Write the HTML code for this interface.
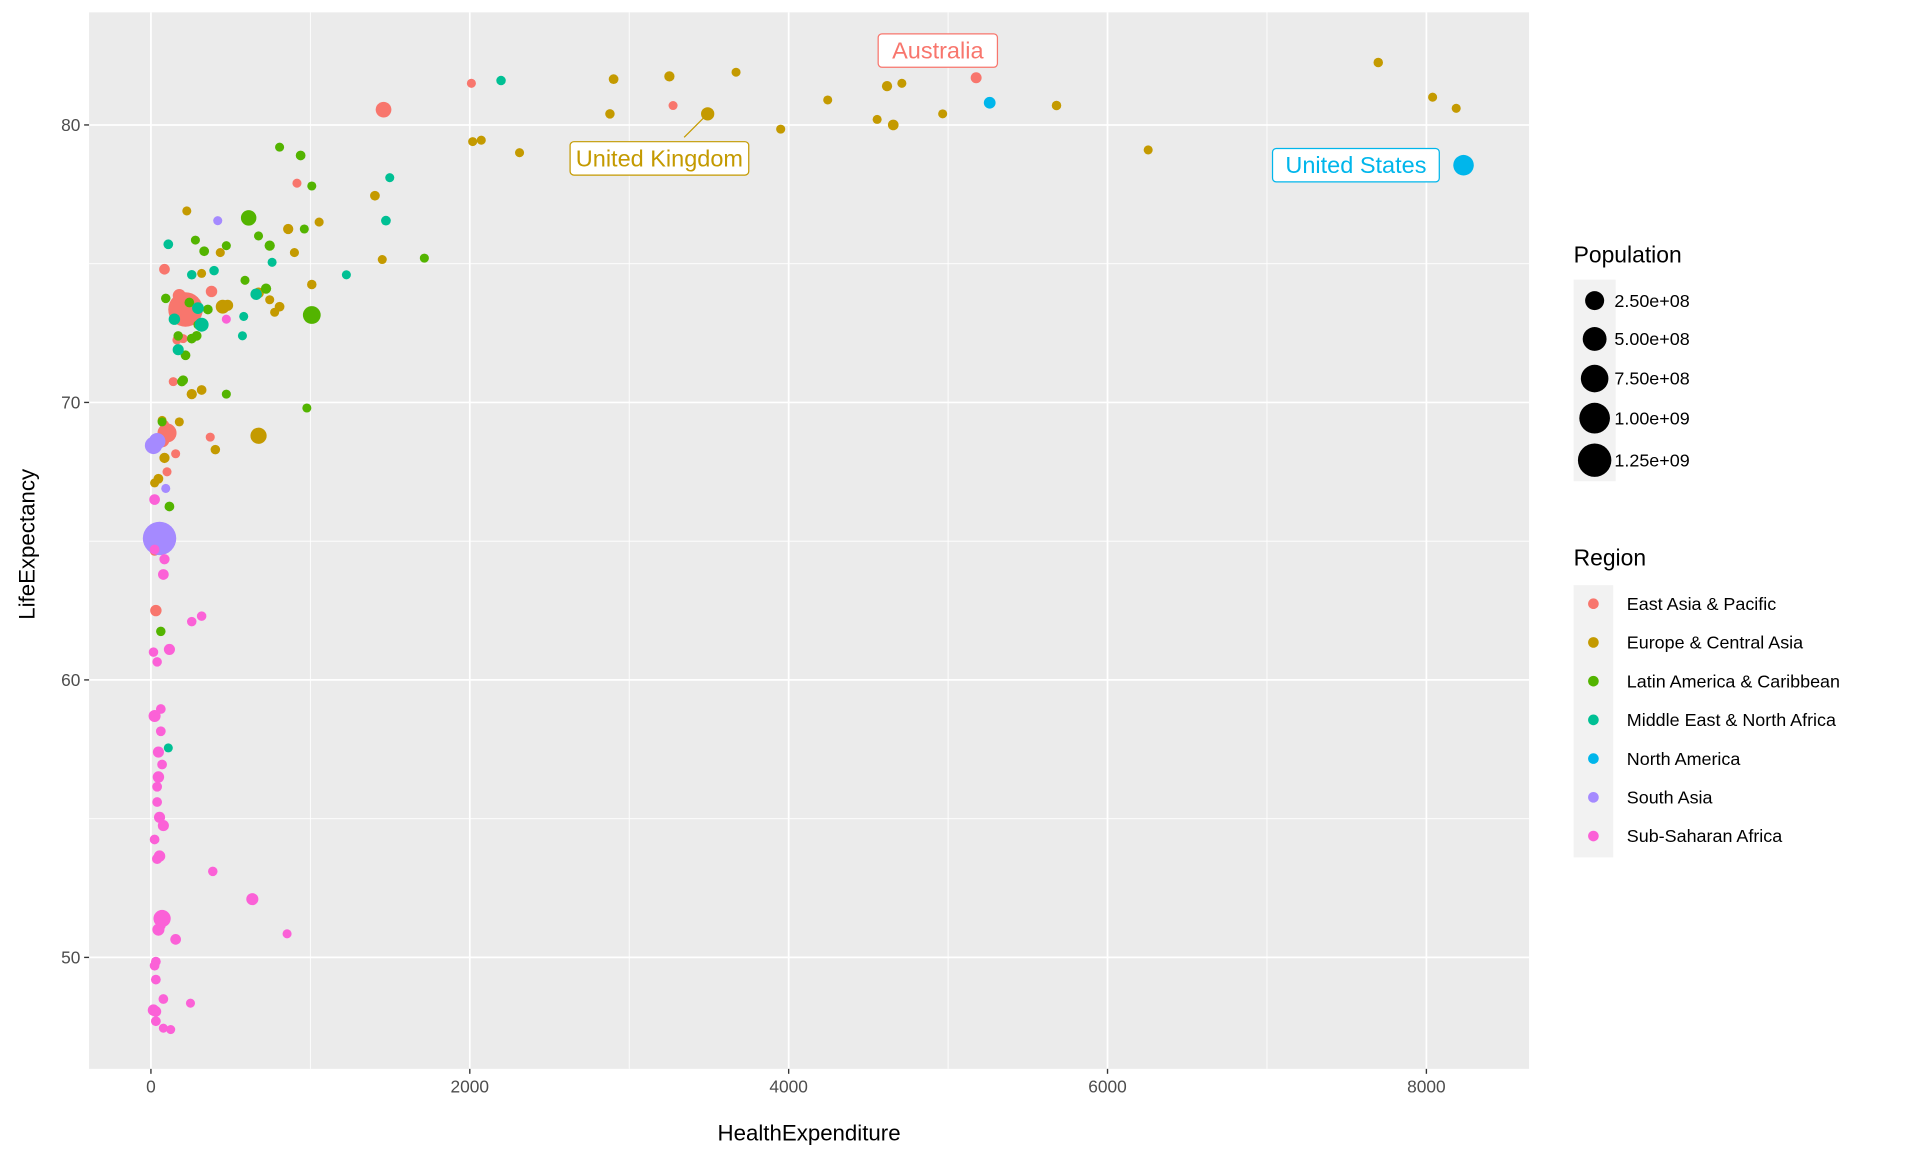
<!DOCTYPE html>
<html><head><meta charset="utf-8"><style>
html,body{margin:0;padding:0;background:#fff;}
svg{display:block;font-family:"Liberation Sans",Arial,sans-serif;}
</style></head><body>
<svg id="chart" width="1920" height="1152" viewBox="0 0 1552 931.2" xmlns="http://www.w3.org/2000/svg">
<rect x="0" y="0" width="1552" height="931.2" fill="#fff"/>
<g id="panel"></g>
<g id="points"></g>
<g id="labels"></g>
<g id="axes"></g>
<g id="legend"></g>
</svg>
<script>
const regions = ["East Asia & Pacific","Europe & Central Asia","Latin America & Caribbean","Middle East & North Africa","North America","South Asia","Sub-Saharan Africa"];
const regionColors = ["#F8766D","#C49A00","#53B400","#00C094","#00B6EB","#A58AFF","#FB61D7"];
const xTicks = [0,2000,4000,6000,8000];
const yTicks = [50,60,70,80];
const popLegend = [2.5e8,5e8,7.5e8,1e9,1.25e9];
const popLegendLabels = ["2.50e+08","5.00e+08","7.50e+08","1.00e+09","1.25e+09"];
// health expenditure, life expectancy, population (millions), region index
const healthExp = [];
const lifeExp = [];
const population = [];
const regionIdx = [];
const ssa = [[23,66.5,20],[23,64.7,10],[85,64.35,15],[78,63.8,20],[116,61.1,25],[16,61.0,8],[39,60.65,8],[256,62.1,8],[318,62.3,8],[23,58.7,40],[62,58.95,10],[62,58.15,10],[47,57.4,25],[70,56.95,10],[47,56.5,30],[39,56.15,10],[39,55.6,10],[54,55.05,25],[78,54.75,25],[23,54.25,10],[54,53.65,30],[39,53.55,15],[70,51.4,180],[47,51.0,40],[62,51.15,10],[155,50.65,20],[388,53.1,8],[636,52.1,40],[854,50.85,5],[31,49.85,10],[23,49.7,10],[31,49.2,10],[78,48.5,10],[16,48.1,30],[31,47.7,10],[78,47.45,5],[124,47.4,5],[248,48.35,5],[473,73.0,5],[31,48.05,20]];
const eap = [[5176,81.7,23],[2010,81.5,5],[3275,80.7,5],[1459,80.55,127],[916,77.9,5],[85,74.8,20],[217,73.35,1360],[178,73.85,60],[380,74.0,30],[163,72.25,5],[202,72.3,5],[140,70.75,5],[372,68.75,5],[101,68.9,250],[70,68.65,100],[23,64.65,10],[101,67.5,5],[155,68.15,5],[31,62.5,30],[85,69.2,5]];
const sa = [[54,65.1,1250],[39,68.6,157],[93,66.9,5],[419,76.55,5],[16,68.45,180]];
const lac = [[1009,73.15,200],[613,76.65,120],[807,79.2,5],[939,78.9,10],[962,76.25,5],[1009,77.8,5],[675,76.0,5],[745,75.65,15],[279,75.85,5],[334,75.45,10],[473,75.65,5],[93,73.75,8],[217,71.7,10],[202,70.8,10],[256,72.3,10],[287,72.4,10],[357,73.35,10],[62,61.75,8],[116,66.25,10],[978,69.8,5],[473,70.3,5],[1715,75.2,5],[722,74.1,15],[70,69.3,5],[590,74.4,5],[295,72.8,5],[241,73.6,10],[194,70.75,8],[62,65.0,8],[171,72.4,8]];
const mena = [[2196,81.6,8],[1498,78.1,5],[1474,76.55,10],[1226,74.6,5],[760,75.05,5],[582,73.1,5],[318,72.8,80],[147,73.0,30],[256,74.6,8],[109,75.7,10],[396,74.75,8],[574,72.4,5],[171,71.9,25],[295,73.4,35],[109,57.55,5],[93,65.0,5],[660,73.9,30]];
const eca = [[2902,81.65,10],[3252,81.75,15],[3670,81.9,5],[7698,82.25,8],[8039,81.0,5],[8187,80.6,5],[5680,80.7,8],[4245,80.9,5],[4617,81.4,15],[4710,81.5,5],[3492,80.4,64],[2879,80.4,8],[3950,79.85,5],[4555,80.2,5],[4656,80.0,20],[4966,80.4,5],[6255,79.1,5],[2312,79.0,5],[2018,79.4,5],[2072,79.45,5],[1405,77.45,10],[1451,75.15,5],[1055,76.5,5],[861,76.25,15],[900,75.4,5],[1009,74.25,8],[745,73.7,5],[807,73.45,10],[776,73.25,5],[435,75.4,5],[318,74.65,5],[225,76.9,5],[481,73.5,25],[450,73.45,76],[675,73.95,20],[256,70.3,15],[318,70.45,10],[675,68.8,143],[404,68.3,8],[70,69.35,5],[178,69.3,5],[85,68.0,15],[47,67.25,10],[23,67.1,5]];
const na = [[8233,78.55,318],[5261,80.8,35]];
[[eap,0],[eca,1],[lac,2],[mena,3],[na,4],[sa,5],[ssa,6]].forEach(([arr,r])=>arr.forEach(d=>{healthExp.push(d[0]);lifeExp.push(d[1]);population.push(d[2]*1e6);regionIdx.push(r);}));
const labelNames = ["Australia","United Kingdom","United States"];
const labelX = [5176,3492,8233];
const labelY = [81.7,80.4,78.55];

const NS="http://www.w3.org/2000/svg";
const P={l:72,r:1236,t:10,b:864};
const X=v=>122+v*0.128875;
const Y=v=>101-(v-80)*22.43;
const R=p=>3+11*Math.sqrt(p/1.37e9);
function mk(tag,attrs,parent,text){const e=document.createElementNS(NS,tag);for(const k in attrs)e.setAttribute(k,attrs[k]);if(text!==undefined)e.textContent=text;parent.appendChild(e);return e;}
const panel=document.getElementById('panel');
const pr=mk('rect',{x:P.l,y:P.t,width:P.r-P.l,height:P.b-P.t,fill:'#EBEBEB'},panel);


[1000,3000,5000,7000].forEach(v=>{const l=mk('line',{x1:X(v),x2:X(v),y1:P.t,y2:P.b,stroke:'#fff','stroke-width':0.7},panel);});
[55,65,75].forEach(v=>{const l=mk('line',{x1:P.l,x2:P.r,y1:Y(v),y2:Y(v),stroke:'#fff','stroke-width':0.7},panel);});
xTicks.forEach(v=>{const l=mk('line',{x1:X(v),x2:X(v),y1:P.t,y2:P.b,stroke:'#fff','stroke-width':1.4},panel);});
yTicks.forEach(v=>{const l=mk('line',{x1:P.l,x2:P.r,y1:Y(v),y2:Y(v),stroke:'#fff','stroke-width':1.4},panel);});
const pts=document.getElementById('points');
healthExp.forEach((h,i)=>{const c=mk('circle',{cx:X(h),cy:Y(lifeExp[i]),r:R(population[i]),fill:regionColors[regionIdx[i]]},pts);

});
// labels
const lab=document.getElementById('labels');
const offs=[[-31,-22],[-39,36],[-87,0]];
labelNames.forEach((n,i)=>{const col=regionColors[[0,1,4][i]];const cx=X(labelX[i])+offs[i][0],cy=Y(labelY[i])+offs[i][1];
const w=n.length*9.6+10,h=27;
if(i===1){const ln=mk('line',{x1:X(labelX[i])-19,y1:Y(labelY[i])+19,x2:X(labelX[i]),y2:Y(labelY[i]),stroke:col,'stroke-width':1},lab);}
const g=mk('g',{},lab);
mk('rect',{x:cx-w/2,y:cy-h/2,width:w,height:h,rx:3,fill:'#fff',stroke:col,'stroke-width':1},g);
mk('text',{x:cx,y:cy+6.5,'text-anchor':'middle','font-size':19,fill:col},g,n);});
// axes
const ax=document.getElementById('axes');
xTicks.forEach(v=>{const t=mk('line',{x1:X(v),x2:X(v),y1:P.b,y2:P.b+4,stroke:'#333','stroke-width':1.1},ax);
const tx=mk('text',{x:X(v),y:P.b+19,'text-anchor':'middle','font-size':14,fill:'#4D4D4D'},ax,String(v));});
yTicks.forEach(v=>{const t=mk('line',{x1:P.l-4,x2:P.l,y1:Y(v),y2:Y(v),stroke:'#333','stroke-width':1.1},ax);
const tx=mk('text',{x:P.l-7,y:Y(v)+5,'text-anchor':'end','font-size':14,fill:'#4D4D4D'},ax,String(v));});
const xt=mk('text',{x:(P.l+P.r)/2,y:922,'text-anchor':'middle','font-size':18,fill:'#000'},ax,'HealthExpenditure');

const yt=mk('text',{x:0,y:0,'text-anchor':'middle','font-size':18,fill:'#000',transform:'translate(28,440) rotate(-90)'},ax,'LifeExpectancy');

// legend
const lg=document.getElementById('legend');
const t1=mk('text',{x:1272,y:212,'font-size':18.5,fill:'#000'},lg,'Population');

const popY=[243,274,306,338,372];
mk('rect',{x:1272,y:226,width:34,height:163,fill:'#F2F2F2'},lg);
popLegend.forEach((p,i)=>{const g=mk('g',{},lg);
mk('circle',{cx:1289,cy:popY[i],r:R(p),fill:'#000'},g);
mk('text',{x:1305,y:popY[i]+5,'font-size':14.5,fill:'#000'},g,popLegendLabels[i]);});
const t2=mk('text',{x:1272,y:457,'font-size':18.5,fill:'#000'},lg,'Region');

mk('rect',{x:1272,y:473,width:32,height:220,fill:'#F2F2F2'},lg);
regions.forEach((r,i)=>{const y=488+i*31.3;const g=mk('g',{},lg);
mk('circle',{cx:1288,cy:y,r:4.3,fill:regionColors[i]},g);
mk('text',{x:1315,y:y+5,'font-size':14.5,fill:'#000'},g,r);});
</script>
</body></html>
